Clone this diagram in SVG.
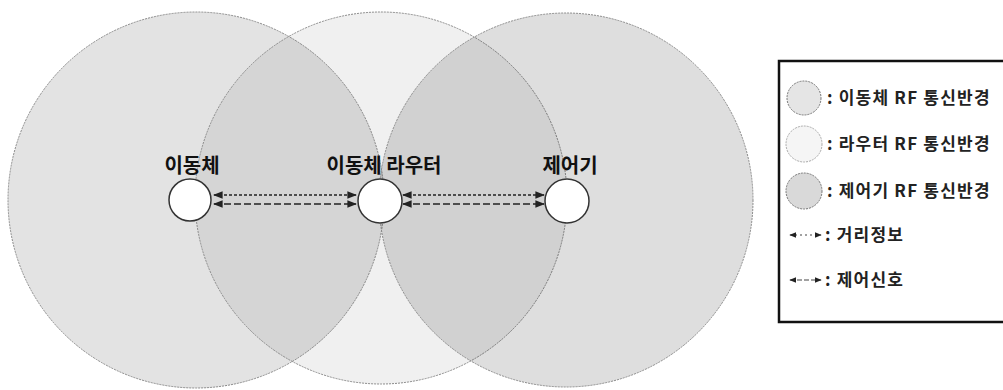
<svg xmlns="http://www.w3.org/2000/svg" width="1003" height="390" viewBox="0 0 1003 390">
<defs>
<marker id="ahs" viewBox="0 0 10 10" refX="9" refY="5" markerWidth="6" markerHeight="6" orient="auto-start-reverse" markerUnits="strokeWidth">
<path d="M0,1 L10,5 L0,9 z" fill="#222"/>
</marker>
</defs>
<style>
.rng{stroke:#8a8a8a;stroke-width:1;stroke-dasharray:2 1}
.node{fill:#fff;stroke:#333;stroke-width:1.5}
.lbl{font-family:"Noto Sans CJK KR","Noto Sans",sans-serif;font-weight:700;font-size:20px;fill:#111;text-anchor:middle}
.lg{font-family:"Noto Sans CJK KR","Noto Sans",sans-serif;font-weight:700;font-size:17px;letter-spacing:1.2px;fill:#222}
.dist{stroke:#222;stroke-width:1.6;stroke-dasharray:3 2;fill:none}
.ctrl{stroke:#222;stroke-width:1.6;stroke-dasharray:7 3;fill:none}
.ldist{stroke:#444;stroke-width:1.2;stroke-dasharray:2 3;fill:none}
.lctrl{stroke:#444;stroke-width:1.2;stroke-dasharray:5 2;fill:none}
</style>
<rect width="1003" height="390" fill="#fff"/>
<g id="ranges">
<circle id="range-mobile" class="rng" cx="196" cy="200" r="188" fill="#000" fill-opacity="0.11"/>
<circle id="range-router" class="rng" cx="381" cy="198" r="186" fill="#000" fill-opacity="0.06"/>
<circle id="range-controller" class="rng" cx="566" cy="200" r="187" fill="#000" fill-opacity="0.13"/>
</g>
<g id="connectors">
<line class="dist" x1="214" y1="195" x2="356" y2="195" marker-start="url(#ahs)" marker-end="url(#ahs)"/>
<line class="ctrl" x1="214" y1="204" x2="356" y2="204" marker-start="url(#ahs)" marker-end="url(#ahs)"/>
<line class="dist" x1="403" y1="195" x2="544" y2="195" marker-start="url(#ahs)" marker-end="url(#ahs)"/>
<line class="ctrl" x1="403" y1="204" x2="544" y2="204" marker-start="url(#ahs)" marker-end="url(#ahs)"/>
</g>
<g id="node-mobile">
<circle class="node" cx="190" cy="200" r="21"/>
<text class="lbl" x="192" y="173">이동체</text>
</g>
<g id="node-router">
<circle class="node" cx="380" cy="201" r="22"/>
<text class="lbl" x="384" y="173">이동체 라우터</text>
</g>
<g id="node-controller">
<circle class="node" cx="567" cy="201" r="22"/>
<text class="lbl" x="570" y="173">제어기</text>
</g>
<g id="legend">
<rect x="779" y="61" width="226" height="261" fill="#fff" stroke="#111" stroke-width="2.5"/>
<circle cx="804" cy="98" r="17" fill="#000" fill-opacity="0.1" stroke="#777" stroke-dasharray="2 1"/>
<text class="lg" x="827" y="104">: 이동체 RF 통신반경</text>
<circle cx="804" cy="144" r="18" fill="#000" fill-opacity="0.04" stroke="#aaa" stroke-dasharray="2 1"/>
<text class="lg" x="827" y="150">: 라우터 RF 통신반경</text>
<circle cx="804" cy="191" r="18" fill="#000" fill-opacity="0.15" stroke="#777" stroke-dasharray="2 1"/>
<text class="lg" x="827" y="197">: 제어기 RF 통신반경</text>
<line class="ldist" x1="790" y1="235" x2="821" y2="235" marker-start="url(#ahs)" marker-end="url(#ahs)"/>
<text class="lg" x="825" y="241">: 거리정보</text>
<line class="lctrl" x1="790" y1="280" x2="821" y2="280" marker-start="url(#ahs)" marker-end="url(#ahs)"/>
<text class="lg" x="825" y="286">: 제어신호</text>
</g>
</svg>
